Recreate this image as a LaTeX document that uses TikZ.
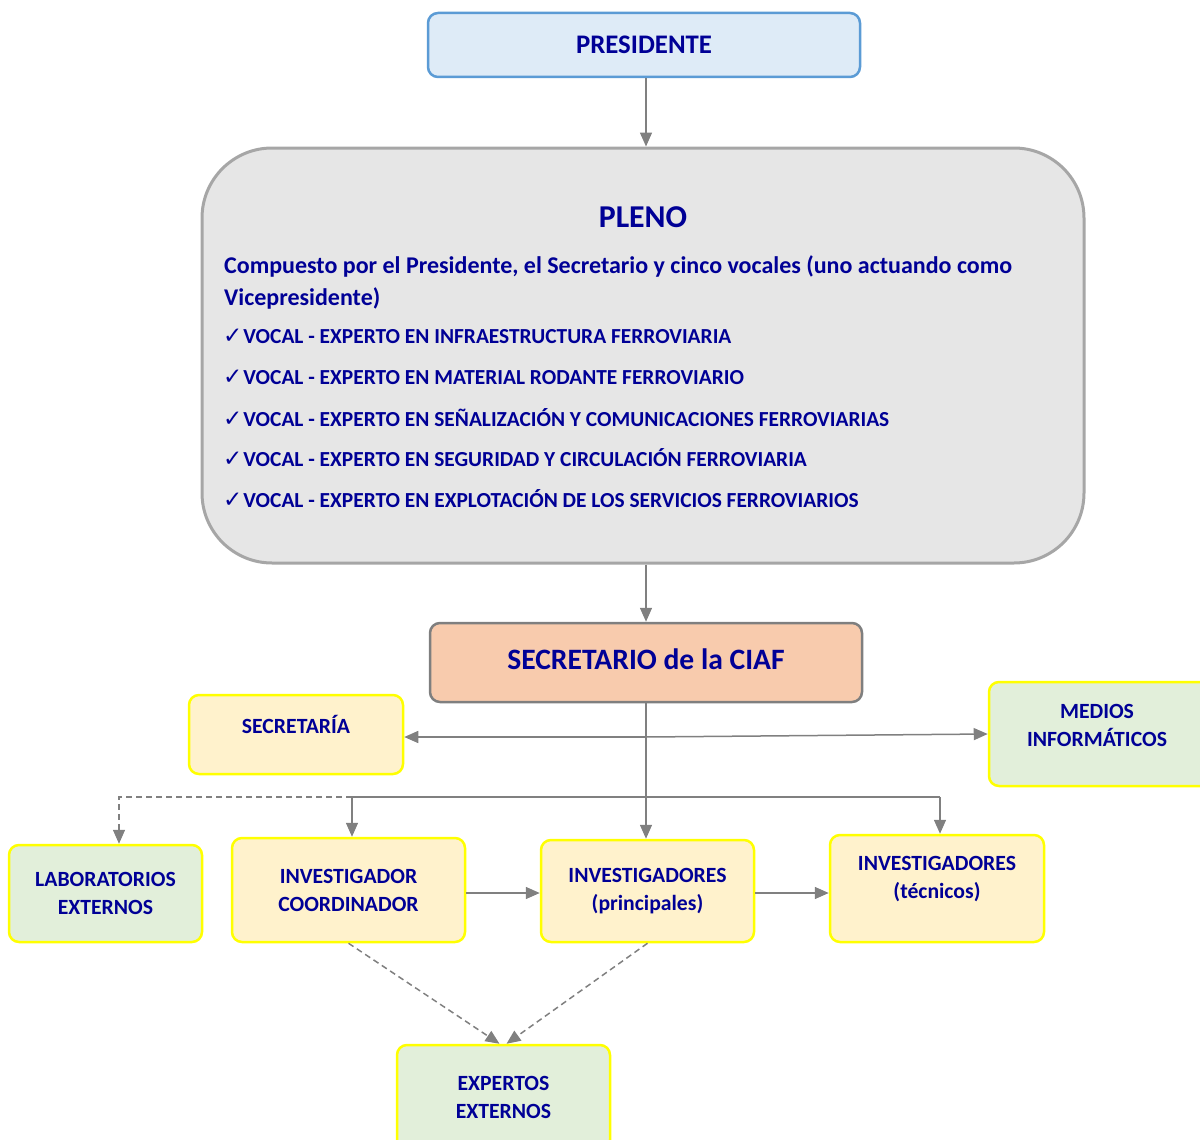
\documentclass[tikz,border=0pt]{standalone}
\usepackage{fontspec}
\setmainfont{Carlito}
\newfontfamily\symfont{DejaVu Sans}
\usetikzlibrary{arrows.meta}
\definecolor{navytxt}{RGB}{0,0,150}
\definecolor{presfill}{HTML}{DEEBF7}
\definecolor{presdraw}{HTML}{5B9BD5}
\definecolor{plenofill}{HTML}{E6E6E6}
\definecolor{plenodraw}{HTML}{A6A6A6}
\definecolor{secfill}{HTML}{F8CBAD}
\definecolor{secdraw}{HTML}{7F7F7F}
\definecolor{yfill}{HTML}{FFF2CC}
\definecolor{gfill}{HTML}{E2EFDA}
\definecolor{yborder}{HTML}{FFFF00}
\definecolor{linegray}{HTML}{808080}
\newcommand{\chk}{{\symfont\mdseries\fontsize{23}{20}\selectfont ✓}\kern1pt}
\begin{document}
\begin{tikzpicture}[x=1pt,y=-1pt,
  box/.style={rounded corners=10pt, line width=2.5pt, inner sep=0pt, align=center, text=navytxt,
    font=\bfseries\fontsize{21.7}{28}\selectfont},
  ybox/.style={box, draw=yborder, fill=yfill},
  gbox/.style={box, draw=yborder, fill=gfill},
  txt/.style={inner sep=0pt, align=center, text=navytxt, font=\bfseries\fontsize{21.7}{28}\selectfont},
  vocal/.style={inner sep=0pt, anchor=west, text=navytxt, font=\bfseries\fontsize{21.4}{24}\selectfont},
  conn/.style={draw=linegray, line width=1.5pt, -{Triangle[length=14pt,width=12pt]}},
  dconn/.style={conn, dash pattern=on 6pt off 4pt},
]
\useasboundingbox (0,0) rectangle (1200,1140);

% PRESIDENTE
\node[box, draw=presdraw, fill=presfill, minimum width=432pt, minimum height=64pt,
  font=\bfseries\fontsize{26.8}{30}\selectfont] (pres) at (644,45) {PRESIDENTE};

% PLENO
\node[draw=plenodraw, fill=plenofill, line width=3pt, rounded corners=70pt,
  minimum width=882pt, minimum height=415pt, inner sep=0pt] (pleno) at (643,355.5) {};
\node[txt, font=\bfseries\fontsize{31.8}{34}\selectfont] (plenot) at (643,217) {PLENO};
\node[txt, anchor=west, align=left, font=\bfseries\fontsize{24}{32}\selectfont] (comp) at (224,282)
  {Compuesto por el Presidente, el Secretario y cinco vocales (uno actuando como\\Vicepresidente)};
\node[vocal] (v1) at (223,336) {\chk VOCAL - EXPERTO EN INFRAESTRUCTURA FERROVIARIA};
\node[vocal] (v2) at (223,377) {\chk VOCAL - EXPERTO EN MATERIAL RODANTE FERROVIARIO};
\node[vocal] (v3) at (223,417.5) {\chk VOCAL - EXPERTO EN SEÑALIZACIÓN Y COMUNICACIONES FERROVIARIAS};
\node[vocal] (v4) at (223,457.5) {\chk VOCAL - EXPERTO EN SEGURIDAD Y CIRCULACIÓN FERROVIARIA};
\node[vocal] (v5) at (223,498.5) {\chk VOCAL - EXPERTO EN EXPLOTACIÓN DE LOS SERVICIOS FERROVIARIOS};

% SECRETARIO
\node[box, draw=secdraw, fill=secfill, minimum width=432pt, minimum height=79pt,
  font=\bfseries\fontsize{29.6}{32}\selectfont] (sec) at (646,662.5) {\raisebox{7.5pt}{SECRETARIO de la CIAF}};

% SECRETARIA and MEDIOS
\node[ybox, minimum width=214pt, minimum height=79pt] (secr) at (296,734.5) {};
\node[txt] (secrt) at (296,724) {SECRETARÍA};
\node[gbox, minimum width=224pt, minimum height=104pt] (med) at (1101,734) {};
\node[txt] (medt) at (1097,725) {MEDIOS\\INFORMÁTICOS};

% Lower row
\node[gbox, minimum width=193pt, minimum height=97pt] (lab) at (105.5,893.5) {LABORATORIOS\\EXTERNOS};
\node[ybox, minimum width=233pt, minimum height=104pt] (invc) at (348.5,890) {INVESTIGADOR\\COORDINADOR};
\node[ybox, minimum width=213pt, minimum height=102pt] (invp) at (647.5,891) {INVESTIGADORES\\(principales)};
\node[ybox, minimum width=214pt, minimum height=107pt] (invt) at (937,888.5) {};
\node[txt] (invtt) at (937,879) {INVESTIGADORES\\(técnicos)};
\node[gbox, minimum width=213pt, minimum height=105pt] (exp) at (503.5,1097.5) {EXPERTOS\\EXTERNOS};

% Connectors
\draw[conn] (sec.north |- pres.south) -- (sec.north |- pleno.north);
\draw[conn] (sec.north |- pleno.south) -- (sec.north);
\coordinate (j) at (646,737);
\coordinate (bl) at (352,797);
\coordinate (br) at (940,797);
\coordinate (dl) at (119,797);
\draw[conn] (sec.south) -- (sec.south |- invp.north);
\draw[conn] (j) -- (secr.east |- j);
\draw[conn] (j) -- (med.west);
\draw[draw=linegray, line width=1.5pt] (bl) -- (br);
\draw[conn] (bl) -- (bl |- invc.north);
\draw[conn] (br) -- (br |- invt.north);
\draw[dconn] (bl) -- (dl) -- (dl |- lab.north);
\draw[conn] (invc.east |- 0,893) -- (invp.west |- 0,893);
\draw[conn] (invp.east |- 0,893) -- (invt.west |- 0,893);
\draw[dconn] (invc.south) -- ([xshift=-4pt]exp.north);
\draw[dconn] (invp.south) -- ([xshift=3pt]exp.north);
\end{tikzpicture}
\end{document}
